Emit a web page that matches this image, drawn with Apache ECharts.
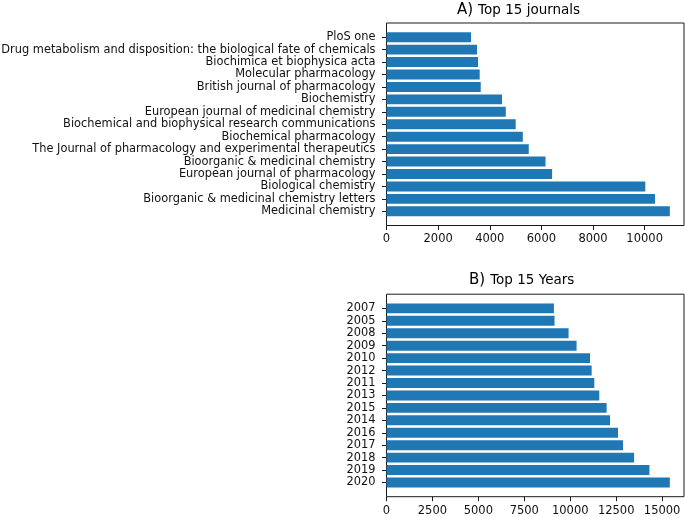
<!DOCTYPE html>
<html>
<head>
<meta charset="utf-8">
<script src="https://cdn.jsdelivr.net/npm/echarts@6/dist/echarts.min.js"></script>
<style>
  html, body { margin: 0; padding: 0; background: #fff; }
  #chart { width: 685px; height: 517px; }
</style>
</head>
<body>
<div id="chart"></div>
<script>
// ---- data (bottom bar first, as barh draws it) ----
const journalNames = [
    'Medicinal chemistry',
    'Bioorganic & medicinal chemistry letters',
    'Biological chemistry',
    'European journal of pharmacology',
    'Bioorganic & medicinal chemistry',
    'The Journal of pharmacology and experimental therapeutics',
    'Biochemical pharmacology',
    'Biochemical and biophysical research communications',
    'European journal of medicinal chemistry',
    'Biochemistry',
    'British journal of pharmacology',
    'Molecular pharmacology',
    'Biochimica et biophysica acta',
    'Drug metabolism and disposition: the biological fate of chemicals',
    'PloS one'
];
const journalCounts = [10975, 10400, 10025, 6415, 6160, 5510, 5280, 5005, 4620, 4475, 3650, 3610, 3545, 3505, 3275];

const yearLabels = ['2020', '2019', '2018', '2017', '2016', '2014', '2015', '2013', '2011', '2012', '2010', '2009', '2008', '2005', '2007'];
const yearCounts = [15420, 14310, 13475, 12875, 12600, 12165, 11980, 11580, 11310, 11165, 11075, 10345, 9910, 9145, 9110];

const journalTickStep = 2000;
const yearTickStep = 2500;

// ---- layout helpers ----
const FONT = 'DejaVu Sans';
const BLUE = '#1f77b4';
const frameLeft = 386.5;
const frameWidth = 297.5;
const frameHeight = 202.5;
const frameTopA = 23;
const frameTopB = 294.2;

// matplotlib-like margins: bars 0.8 wide, 5% padding on the category axis
const n = journalNames.length;
const catSpan = (n - 1 + 0.8) * 1.1;
const pad = frameHeight * ((catSpan - n) / 2) / catSpan;
const dataHeight = frameHeight * n / catSpan;

function panel(idx, frameTop, names, counts, step) {
    const xMax = Math.max(...counts) * 1.05;
    // tick axis runs past the frame (off canvas) so its end is a whole step
    const axisEnd = Math.floor(xMax / step) * step + step;
    const dataWidth = frameWidth * axisEnd / xMax;
    return {
        grids: [
            { left: frameLeft, top: frameTop, width: frameWidth, height: frameHeight,
              outerBoundsMode: 'none', containLabel: false,
              show: true, borderColor: '#1a1a1a', borderWidth: 1, backgroundColor: 'transparent' },
            { left: frameLeft, top: frameTop + pad, width: dataWidth, height: dataHeight,
              outerBoundsMode: 'none', containLabel: false }
        ],
        xAxes: [
            { gridIndex: idx * 2, type: 'value', show: false, min: 0, max: 1 },
            {
                gridIndex: idx * 2 + 1, type: 'value', min: 0, max: axisEnd, interval: step,
                offset: pad,
                splitLine: { show: false },
                axisLine: { show: false },
                axisTick: { show: true, length: 4.5, lineStyle: { color: '#1a1a1a', width: 1 } },
                axisLabel: {
                    margin: 8, color: '#111', fontFamily: FONT, fontSize: 11.5,
                    showMaxLabel: false,
                    formatter: v => String(v)
                }
            }
        ],
        yAxes: [
            { gridIndex: idx * 2, type: 'value', show: false, min: 0, max: 1 },
            {
                gridIndex: idx * 2 + 1, type: 'category', data: names,
                axisLine: { show: false },
                axisTick: { show: true, alignWithLabel: true, length: 4.5, lineStyle: { color: '#1a1a1a', width: 1 } },
                axisLabel: { margin: 11, color: '#111', fontFamily: FONT, fontSize: 11.4, interval: 0 }
            }
        ],
        series: {
            type: 'bar', xAxisIndex: idx * 2 + 1, yAxisIndex: idx * 2 + 1,
            data: counts, barWidth: '80%',
            itemStyle: { color: BLUE }, silent: true
        }
    };
}

const pA = panel(0, frameTopA, journalNames, journalCounts, journalTickStep);
const pB = panel(1, frameTopB, yearLabels, yearCounts, yearTickStep);

function titleOf(letter, rest, left, top) {
    return {
        text: '{a|' + letter + ')} {b|' + rest + '}',
        left: left, top: top, padding: 0,
        textStyle: {
            fontWeight: 'normal',
            rich: {
                a: { fontFamily: FONT, fontSize: 15, fontWeight: 'normal', color: '#000' },
                b: { fontFamily: FONT, fontSize: 13.5, fontWeight: 'normal', color: '#000' }
            }
        }
    };
}

const chart = echarts.init(document.getElementById('chart'), null, { renderer: 'canvas' });
chart.setOption({
    animation: false,
    backgroundColor: '#fff',
    title: [titleOf('A', 'Top 15 journals', 457, 1), titleOf('B', 'Top 15 Years', 469, 271)],
    grid: pA.grids.concat(pB.grids),
    xAxis: pA.xAxes.concat(pB.xAxes),
    yAxis: pA.yAxes.concat(pB.yAxes),
    series: [pA.series, pB.series]
});
</script>
</body>
</html>
